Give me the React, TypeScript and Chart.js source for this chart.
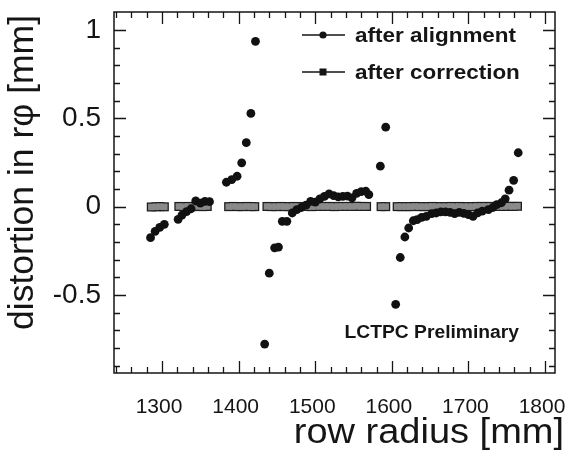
import React, { useEffect, useRef } from 'react';
import { Chart, registerables } from 'chart.js';

Chart.register(...registerables);

// ---- data (row radius in mm, distortion in r-phi in mm) ----
const alignR = [
  1285, 1291, 1297, 1303,
  1321, 1326, 1332, 1338, 1344, 1350, 1356, 1362,
  1384, 1391, 1398, 1404, 1410, 1416, 1422,
  1434, 1440, 1447, 1452, 1457, 1463, 1470, 1476, 1482, 1488, 1494, 1500,
  1506, 1512, 1518, 1524, 1530, 1536, 1542, 1548, 1554, 1560, 1566, 1570,
  1585, 1592,
  1605, 1611, 1617, 1622, 1628, 1633, 1639, 1645, 1652, 1658, 1664, 1670,
  1676, 1682, 1688, 1694, 1700, 1706, 1712, 1718, 1726, 1732, 1737, 1743,
  1748, 1753, 1759, 1765,
];
const alignD = [
  -0.176, -0.14, -0.118, -0.1,
  -0.072, -0.048, -0.028, -0.012, 0.032, 0.02, 0.03, 0.028,
  0.138, 0.153, 0.172, 0.248, 0.362, 0.528, 0.936,
  -0.778, -0.377, -0.233, -0.229, -0.083, -0.083, -0.036, -0.017, -0.005, 0.008, 0.03, 0.025,
  0.044, 0.058, 0.072, 0.062, 0.055, 0.058, 0.059, 0.05, 0.075, 0.085, 0.087, 0.068,
  0.229, 0.45,
  -0.553, -0.288, -0.172, -0.121, -0.08, -0.074, -0.061, -0.055, -0.04, -0.036, -0.03, -0.03,
  -0.032, -0.04, -0.032, -0.038, -0.045, -0.055, -0.035, -0.025, -0.017, -0.005, 0.011, 0.022,
  0.044, 0.093, 0.149, 0.305,
];

const corrR = [
  1286, 1292, 1297, 1303,
  1322, 1328, 1334, 1340, 1346, 1353, 1359,
  1387, 1393, 1399, 1405, 1411, 1416, 1421,
  1437, 1443, 1449, 1455, 1460, 1466, 1472, 1478, 1484, 1490, 1495, 1501,
  1507, 1513, 1519, 1525, 1530, 1536, 1542, 1548, 1554, 1560, 1567,
  1586, 1592,
  1607, 1613, 1619, 1624, 1630, 1636, 1642, 1648, 1653, 1659, 1665, 1671,
  1677, 1682, 1688, 1694, 1700, 1706, 1711, 1717, 1723, 1729, 1735, 1740,
  1746, 1752, 1758, 1764,
];
const corrD = [
  -0.002, -0.001, 0.0, -0.001,
  0.001, 0.0, 0.001, 0.0, 0.001, 0.0, 0.001,
  0.0, 0.001, 0.0, 0.0, 0.001, 0.0, 0.0,
  0.001, 0.0, 0.0, 0.001, 0.0, 0.0, 0.001, 0.0, 0.001, 0.001, 0.0, 0.001,
  0.001, 0.001, 0.001, 0.0, 0.001, 0.001, 0.001, 0.001, 0.002, 0.001, 0.001,
  0.0, 0.0,
  0.0, 0.0, 0.0, 0.0, 0.001, 0.0, 0.0, 0.0, 0.001, 0.0, 0.0, 0.0,
  0.001, 0.0, 0.001, 0.0, 0.0, 0.0, 0.001, 0.001, 0.001, 0.001, 0.001, 0.001,
  0.001, 0.002, 0.001, 0.002,
];

const xTickValues = [1300, 1400, 1500, 1600, 1700, 1800];
const xTickLabels = ['1300', '1400', '1500', '1600', '1700', '1800'];
const yTickValues = [-0.5, 0, 0.5, 1];
const yTickLabels = ['-0.5', '0', '0.5', '1'];

const seriesNames = ['after alignment', 'after correction'];
const xTitle = 'row radius [mm]';
const yTitle = 'distortion in r\u03C6 [mm]';
const note = 'LCTPC Preliminary';

const FONT = "'Liberation Sans', Arial, Helvetica, sans-serif";
const INK = '#151515';

const rootFrame = {
  id: 'rootFrame',
  afterDraw(chart: any) {
    const { ctx, chartArea } = chart;
    const { left, right, top, bottom } = chartArea;
    const xs = chart.scales.x;
    const ys = chart.scales.y;
    ctx.save();
    ctx.strokeStyle = INK;
    ctx.lineWidth = 1.5;
    ctx.strokeRect(left, top, right - left, bottom - top);

    ctx.lineWidth = 1.3;
    ctx.beginPath();
    // x ticks every 20 mm, major every 100 mm
    for (let v = 1240; v <= 1812; v += 20) {
      const px = Math.round(xs.getPixelForValue(v)) + 0.5;
      if (px <= left + 1 || px >= right - 1) continue;
      const len = v % 100 === 0 ? 12 : 6;
      ctx.moveTo(px, bottom);
      ctx.lineTo(px, bottom - len);
      ctx.moveTo(px, top);
      ctx.lineTo(px, top + len);
    }
    // y ticks every 0.1, major every 0.5
    for (let k = -9; k <= 11; k++) {
      const py = Math.round(ys.getPixelForValue(k / 10)) + 0.5;
      if (py <= top + 1 || py >= bottom - 1) continue;
      const len = k % 5 === 0 ? 12 : 6;
      ctx.moveTo(left, py);
      ctx.lineTo(left + len, py);
      ctx.moveTo(right, py);
      ctx.lineTo(right - len, py);
    }
    ctx.stroke();

    // legend
    const rows = [35, 72];
    ctx.lineWidth = 1.4;
    rows.forEach((ry, i) => {
      ctx.beginPath();
      ctx.moveTo(302, ry);
      ctx.lineTo(345, ry);
      ctx.stroke();
      ctx.fillStyle = INK;
      if (i === 0) {
        ctx.beginPath();
        ctx.arc(323, ry, 3.6, 0, Math.PI * 2);
        ctx.fill();
      } else {
        ctx.fillRect(319.5, ry - 3.5, 7, 7);
      }
      ctx.save();
      ctx.translate(355, ry);
      ctx.scale(1.07, 1);
      ctx.font = `bold 21px ${FONT}`;
      ctx.textAlign = 'left';
      ctx.textBaseline = 'middle';
      ctx.fillText(seriesNames[i], 0, 1);
      ctx.restore();
    });

    // note
    ctx.save();
    ctx.translate(519, 333);
    ctx.scale(1.07, 1);
    ctx.font = `bold 18px ${FONT}`;
    ctx.textAlign = 'right';
    ctx.textBaseline = 'middle';
    ctx.fillStyle = INK;
    ctx.fillText(note, 0, 0);
    ctx.restore();

    // x title
    ctx.save();
    ctx.translate(564, 443);
    ctx.scale(1.07, 1);
    ctx.font = `35.5px ${FONT}`;
    ctx.textAlign = 'right';
    ctx.textBaseline = 'alphabetic';
    ctx.fillStyle = INK;
    ctx.fillText(xTitle, 0, 0);
    ctx.restore();

    // y title
    ctx.save();
    ctx.translate(33, 15);
    ctx.rotate(-Math.PI / 2);
    ctx.font = `35.5px ${FONT}`;
    ctx.textAlign = 'right';
    ctx.textBaseline = 'alphabetic';
    ctx.fillStyle = INK;
    ctx.fillText(yTitle, 0, 0);
    ctx.restore();

    ctx.restore();
  },
};

const zeroPad = (s: any) => {
  s.paddingTop = 0;
  s.paddingBottom = 0;
  s.paddingLeft = 0;
  s.paddingRight = 0;
};

export default function App() {
  const canvasRef = useRef<HTMLCanvasElement | null>(null);

  useEffect(() => {
    const canvas = canvasRef.current;
    if (!canvas) return;
    const corrPoints = corrR.map((r, i) => ({ x: r, y: corrD[i] }));
    const chart = new Chart(canvas, {
      type: 'scatter',
      data: {
        datasets: [
          {
            label: seriesNames[0],
            data: alignR.map((r, i) => ({ x: r, y: alignD[i] })),
            pointStyle: 'circle',
            pointRadius: 4.4,
            backgroundColor: '#111111',
            borderColor: '#111111',
            borderWidth: 0,
            showLine: false,
          },
          {
            label: seriesNames[1],
            data: corrPoints,
            pointStyle: 'rect',
            pointRadius: 4.6,
            backgroundColor: '#8a8a8a',
            borderWidth: 0,
            showLine: false,
          },
          {
            label: seriesNames[1] + ' outline',
            data: corrPoints,
            pointStyle: 'rect',
            pointRadius: 6.4,
            backgroundColor: '#1e1e1e',
            borderWidth: 0,
            showLine: false,
          },
        ],
      },
      options: {
        responsive: false,
        animation: false,
        events: [],
        layout: { padding: { top: 12, right: 20, left: 0, bottom: 0 } },
        plugins: {
          legend: { display: false },
          tooltip: { enabled: false },
        },
        scales: {
          x: {
            type: 'linear',
            min: 1237.3,
            max: 1813,
            grid: { display: false, drawTicks: false },
            border: { display: false },
            afterBuildTicks: (s: any) => {
              s.ticks = xTickValues.map((v) => ({ value: v }));
            },
            afterFit: (s: any) => {
              s.height = 79;
              zeroPad(s);
            },
            ticks: {
              padding: 22,
              labelOffset: -3,
              color: INK,
              font: { family: FONT, size: 21 },
              callback: (v: any) => xTickLabels[xTickValues.indexOf(Number(v))] ?? '',
            },
          },
          y: {
            type: 'linear',
            min: -0.942,
            max: 1.102,
            grid: { display: false, drawTicks: false },
            border: { display: false },
            afterBuildTicks: (s: any) => {
              s.ticks = yTickValues.map((v) => ({ value: v }));
            },
            afterFit: (s: any) => {
              s.width = 114;
              zeroPad(s);
            },
            ticks: {
              padding: 13,
              color: INK,
              font: { family: FONT, size: 28 },
              callback: (v: any) => yTickLabels[yTickValues.indexOf(Number(v))] ?? '',
            },
          },
        },
      },
      plugins: [rootFrame],
    });
    return () => chart.destroy();
  }, []);

  return (
    <div style={{ position: 'absolute', left: 0, top: 0, width: 575, height: 452, background: '#fff' }}>
      <canvas ref={canvasRef} width={575} height={452} style={{ display: 'block' }} />
    </div>
  );
}
